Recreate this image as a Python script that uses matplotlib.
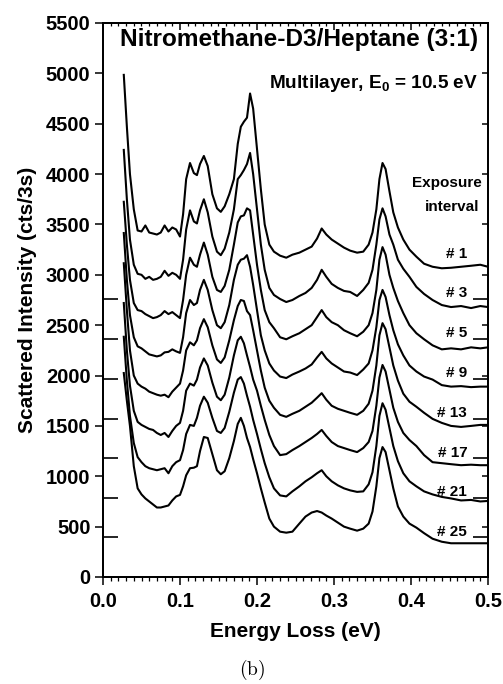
#!/usr/bin/env python3

from matplotlib import pyplot as plt
from matplotlib.ticker import MultipleLocator, FormatStrFormatter

# energy loss grid (eV) shared by all spectra
energy = [0.027, 0.031, 0.035, 0.040, 0.045, 0.050, 0.055, 0.060, 0.065, 0.070,
          0.075, 0.080, 0.085, 0.090, 0.095, 0.100, 0.104, 0.108, 0.113, 0.118,
          0.122, 0.126, 0.131, 0.136, 0.142, 0.148, 0.153, 0.158, 0.164, 0.170,
          0.175, 0.179, 0.183, 0.187, 0.191, 0.195, 0.200, 0.205, 0.210, 0.216,
          0.222, 0.230, 0.238, 0.246, 0.255, 0.263, 0.271, 0.278, 0.284, 0.290,
          0.297, 0.305, 0.313, 0.321, 0.330, 0.338, 0.345, 0.350, 0.355, 0.359,
          0.363, 0.367, 0.372, 0.377, 0.383, 0.390, 0.398, 0.407, 0.417, 0.428,
          0.440, 0.452, 0.465, 0.478, 0.490, 0.500]

# scattered intensity (cts/3s), offset spectra for each exposure interval
exp_01 = [4985, 4470, 4000, 3650, 3440, 3430, 3490, 3420, 3410, 3400,
          3420, 3490, 3430, 3470, 3450, 3380, 3600, 3950, 4110, 4010,
          3990, 4100, 4180, 4080, 3800, 3660, 3625, 3680, 3800, 3950,
          4300, 4470, 4520, 4560, 4800, 4650, 4250, 3850, 3500, 3300,
          3230, 3190, 3170, 3200, 3220, 3250, 3280, 3360, 3460, 3400,
          3350, 3310, 3270, 3240, 3220, 3230, 3300, 3420, 3650, 3950,
          4110, 4050, 3830, 3620, 3470, 3350, 3250, 3180, 3110, 3080,
          3065, 3070, 3080, 3090, 3100, 3080]
exp_03 = [4240, 3750, 3350, 3100, 3010, 3000, 2960, 2980, 2950, 2960,
          2980, 3040, 2990, 3020, 3000, 2960, 3150, 3450, 3640, 3530,
          3510, 3640, 3750, 3620, 3380, 3230, 3195, 3260, 3420, 3650,
          3950, 3990, 4040, 4100, 4210, 4000, 3650, 3300, 3050, 2870,
          2800, 2760, 2730, 2750, 2790, 2820, 2870, 2950, 3050, 2980,
          2910, 2870, 2840, 2830, 2790, 2850, 2920, 3050, 3300, 3550,
          3660, 3580, 3400, 3300, 3150, 3060, 2980, 2880, 2810, 2750,
          2700, 2680, 2690, 2670, 2690, 2680]
exp_05 = [3725, 3300, 2950, 2720, 2650, 2640, 2610, 2590, 2570, 2580,
          2600, 2640, 2610, 2630, 2600, 2570, 2750, 3000, 3170, 3100,
          3080, 3200, 3320, 3200, 2980, 2850, 2830, 2890, 3050, 3300,
          3520, 3580, 3590, 3660, 3640, 3400, 3100, 2850, 2650, 2530,
          2470, 2380, 2360, 2390, 2420, 2460, 2500, 2580, 2650, 2580,
          2530, 2500, 2450, 2420, 2390, 2435, 2500, 2620, 2850, 3150,
          3275, 3200, 3000, 2870, 2740, 2620, 2500, 2420, 2360, 2300,
          2260, 2270, 2260, 2280, 2270, 2280]
exp_09 = [3415, 2950, 2600, 2380, 2290, 2270, 2240, 2210, 2200, 2190,
          2200, 2230, 2235, 2260, 2240, 2225, 2380, 2620, 2750, 2700,
          2720, 2850, 2950, 2850, 2650, 2500, 2470, 2530, 2700, 2950,
          3100, 3150, 3160, 3195, 3080, 2900, 2650, 2400, 2250, 2120,
          2050, 1990, 1975, 2010, 2040, 2070, 2110, 2180, 2235, 2170,
          2120, 2080, 2040, 2030, 2005, 2060, 2120, 2250, 2480, 2750,
          2850, 2780, 2600, 2450, 2310, 2200, 2100, 2040, 1990, 1960,
          1905, 1890, 1895, 1885, 1890, 1890]
exp_13 = [3115, 2650, 2250, 2000, 1920, 1890, 1870, 1840, 1825, 1810,
          1800, 1810, 1785, 1840, 1880, 1920, 2050, 2250, 2330, 2300,
          2350, 2470, 2560, 2480, 2300, 2160, 2125, 2180, 2350, 2550,
          2690, 2750, 2740, 2640, 2600, 2450, 2250, 2050, 1880, 1750,
          1680, 1610, 1590, 1620, 1650, 1690, 1730, 1780, 1825, 1760,
          1700, 1670, 1650, 1630, 1610, 1650, 1720, 1850, 2100, 2400,
          2520, 2460, 2280, 2100, 1950, 1820, 1740, 1690, 1630, 1570,
          1530, 1500, 1490, 1500, 1510, 1510]
exp_17 = [2720, 2250, 1900, 1650, 1540, 1510, 1490, 1470, 1460, 1430,
          1410, 1430, 1390, 1450, 1500, 1530, 1650, 1850, 1920, 1900,
          1960, 2080, 2170, 2100, 1930, 1790, 1755, 1810, 1980, 2200,
          2350, 2385, 2320, 2200, 2085, 1960, 1850, 1700, 1560, 1410,
          1300, 1210, 1220, 1260, 1300, 1340, 1380, 1420, 1460, 1400,
          1340, 1300, 1280, 1260, 1240, 1280, 1340, 1450, 1700, 1980,
          2105, 2040, 1860, 1680, 1540, 1430, 1360, 1300, 1210, 1140,
          1130, 1120, 1110, 1115, 1110, 1110]
exp_21 = [2385, 1950, 1600, 1330, 1190, 1140, 1100, 1080, 1070, 1060,
          1070, 1080, 1030, 1100, 1140, 1160, 1260, 1420, 1510, 1500,
          1580, 1700, 1790, 1730, 1580, 1450, 1430, 1480, 1640, 1830,
          1960, 1985, 1920, 1800, 1690, 1560, 1420, 1270, 1130, 990,
          880, 810, 800, 850, 900, 950, 990, 1030, 1060, 1000,
          950, 910, 880, 860, 845, 850, 920, 1040, 1300, 1600,
          1725, 1660, 1480, 1300, 1150, 1030, 950, 900, 850, 820,
          795, 780, 760, 765, 750, 755]
exp_25 = [2025, 1750, 1500, 1100, 880, 820, 780, 750, 720, 690,
          690, 700, 710, 760, 800, 815, 900, 1010, 1080, 1085,
          1100, 1250, 1390, 1380, 1220, 1060, 1020, 1050, 1180, 1350,
          1520, 1580, 1500, 1380, 1290, 1170, 1030, 880, 740, 580,
          500, 450, 440, 450, 530, 600, 640, 655, 640, 610,
          580, 540, 500, 480, 460, 480, 530, 650, 900, 1180,
          1290, 1240, 1060, 880, 700, 600, 530, 490, 435, 380,
          350, 335, 335, 335, 335, 335]

spectra = [exp_01, exp_03, exp_05, exp_09, exp_13, exp_17, exp_21, exp_25]
interval_labels = ['# 1', '# 3', '# 5', '# 9', '# 13', '# 17', '# 21', '# 25']
# offset level of each spectrum (the first one has no marker drawn)
offsets = [3155, 2760, 2365, 1970, 1570, 1180, 785, 395]

plt.rcParams['font.family'] = ['Liberation Sans', 'DejaVu Sans']
plt.rcParams['font.weight'] = 'bold'
plt.rcParams['mathtext.fontset'] = 'custom'
plt.rcParams['mathtext.rm'] = 'Liberation Sans:bold'
plt.rcParams['mathtext.bf'] = 'Liberation Sans:bold'
plt.rcParams['axes.linewidth'] = 1.2

fig = plt.figure(figsize=(5.03, 6.84), dpi=100)
ax = fig.add_axes([103 / 503, 1 - 577 / 684, 385 / 503, 554 / 684])

for y in spectra:
    ax.plot(energy, y, color='black', linewidth=1.5, solid_joinstyle='round')

# offset markers on both sides
ax.hlines(offsets[1:], 0.0, 0.0195, color='black', linewidth=1.2)
ax.hlines(offsets[1:], 0.4805, 0.5, color='black', linewidth=1.2)

for lab, off in zip(interval_labels, offsets):
    ax.text(0.473, off + 55, lab, ha='right', va='center', fontsize=11, fontweight='bold')

ax.text(0.492, 3911, 'Exposure', ha='right', va='center', fontsize=11, fontweight='bold')
ax.text(0.489, 3673, 'interval', ha='right', va='center', fontsize=11, fontweight='bold')

ax.text(0.2545, 5341, 'Nitromethane-D3/Heptane (3:1)', ha='center', va='center',
        fontsize=17.6, fontweight='bold')
ax.text(0.487, 4904, r'Multilayer, E$_{\mathbf{0}}$ = 10.5 eV', ha='right', va='center',
        fontsize=13.7, fontweight='bold')

ax.set_xlim(0, 0.5)
ax.set_ylim(0, 5500)
ax.xaxis.set_major_locator(MultipleLocator(0.1))
ax.xaxis.set_minor_locator(MultipleLocator(0.01))
ax.xaxis.set_major_formatter(FormatStrFormatter('%.1f'))
ax.yaxis.set_major_locator(MultipleLocator(500))
ax.tick_params(axis='x', which='major', direction='out', length=6, width=1.1, labelsize=14.5, pad=5)
ax.tick_params(axis='x', which='minor', direction='out', length=3, width=0.9)
ax.tick_params(axis='y', which='major', direction='out', length=6, width=1.1, labelsize=14.5, pad=3)

# top and right: inward ticks, no labels (twin axes hide their shared axis)
top = ax.twiny()
top.set_xlim(ax.get_xlim())
top.xaxis.set_major_locator(MultipleLocator(0.1))
top.xaxis.set_minor_locator(MultipleLocator(0.01))
top.tick_params(axis='x', which='major', direction='in', length=5, width=1.1, labeltop=False)
top.tick_params(axis='x', which='minor', direction='in', length=2.5, width=0.9)
right = ax.twinx()
right.set_ylim(ax.get_ylim())
right.yaxis.set_major_locator(MultipleLocator(500))
right.tick_params(axis='y', which='major', direction='in', length=4, width=1.1, labelright=False)

ax.set_xlabel('Energy Loss (eV)', fontsize=15, fontweight='bold', labelpad=8)
ax.set_ylabel('Scattered Intensity (cts/3s)', fontsize=15, fontweight='bold', labelpad=6)

fig.text(252 / 503, 1 - 670 / 684, r'$\mathrm{(b)}$', math_fontfamily='cm',
         ha='center', va='center', fontsize=14)

fig.savefig('out.png', dpi=100)
